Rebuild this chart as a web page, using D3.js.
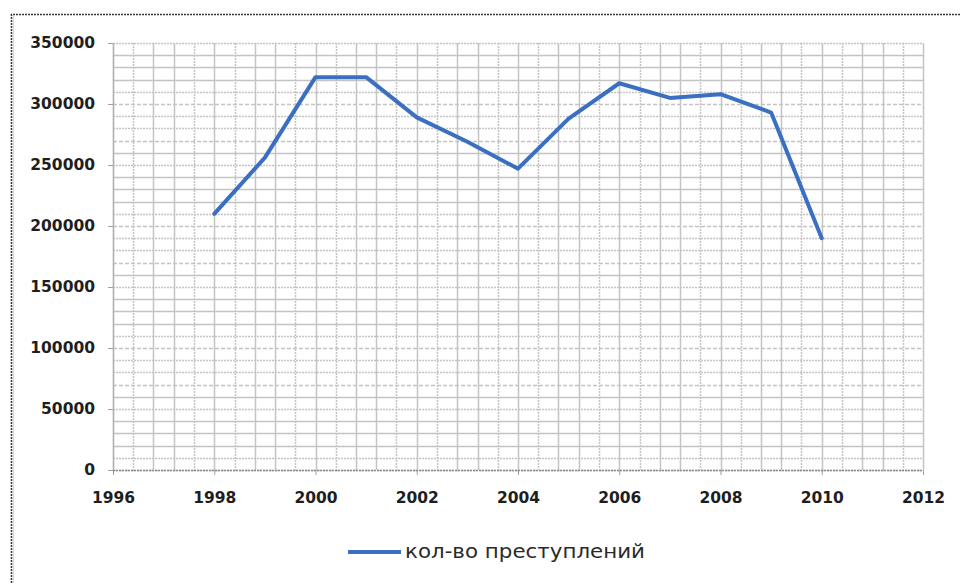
<!DOCTYPE html>
<html>
<head>
<meta charset="utf-8">
<script src="https://cdn.jsdelivr.net/npm/d3@7"></script>
<style>
  html, body { margin: 0; padding: 0; background: #ffffff; }
  svg { display: block; }
</style>
</head>
<body>
<svg id="chart" width="961" height="583"></svg>
<script>
// Crime count by year
const years = [1998, 1999, 2000, 2001, 2002, 2003, 2004, 2005, 2006, 2007, 2008, 2009, 2010];
const crimes = [210000, 256000, 322000, 322000, 289000, 269000, 247000, 288000, 317000, 305000, 308000, 293000, 190000];
const seriesName = "кол-во преступлений";
const xTickValues = [1996, 1998, 2000, 2002, 2004, 2006, 2008, 2010, 2012];
const yTickValues = [0, 50000, 100000, 150000, 200000, 250000, 300000, 350000];

const svg = d3.select("#chart");
const plot = { left: 113, right: 923, top: 43, bottom: 470 };

const x = d3.scaleLinear().domain([1996, 2012]).range([plot.left, plot.right]);
const y = d3.scaleLinear().domain([0, 350000]).range([plot.bottom, plot.top]);

// Outer frame (dotted, left and top edges)
svg.append("path")
  .attr("d", "M11.5,583 L11.5,14.5 L961,14.5")
  .attr("fill", "none")
  .attr("stroke", "#3a3a3a")
  .attr("stroke-width", 1.6)
  .attr("stroke-dasharray", "2,1");
svg.append("line")
  .attr("x1", 13.5).attr("x2", 13.5).attr("y1", 16).attr("y2", 583)
  .attr("stroke", "#d8d8d8").attr("stroke-width", 1);

// Minor grid: every 0.4 year and every 10000
const grid = svg.append("g");
const vSteps = d3.range(0, 41).map(i => 1996 + i * 0.4);
const hSteps = d3.range(0, 36).map(i => i * 10000);
const vDash = ["", "2,1", "", "", "2,1"];
const hDash = ["4,2", "2,1", "", "", "", "2,1", "", "4,2", "2,1", "2,1"];

grid.selectAll("line.v").data(vSteps).join("line")
  .attr("class", "v")
  .attr("x1", d => Math.round(x(d)) + 0.5).attr("x2", d => Math.round(x(d)) + 0.5)
  .attr("y1", plot.top).attr("y2", plot.bottom)
  .attr("stroke", "#c4c4c4").attr("stroke-width", 1.5)
  .attr("stroke-dasharray", (d, i) => vDash[i % vDash.length]);

grid.selectAll("line.h").data(hSteps).join("line")
  .attr("class", "h")
  .attr("x1", plot.left).attr("x2", plot.right)
  .attr("y1", d => Math.round(y(d)) + 0.5).attr("y2", d => Math.round(y(d)) + 0.5)
  .attr("stroke", "#c4c4c4").attr("stroke-width", 1.5)
  .attr("stroke-dasharray", (d, i) => hDash[i % hDash.length]);

// Axes
const tickFont = "'DejaVu Sans', sans-serif";

const yAxis = svg.append("g")
  .attr("transform", `translate(${plot.left},0)`)
  .call(d3.axisLeft(y).tickValues(yTickValues).tickSize(5).tickPadding(13).tickFormat(d3.format("d")));
yAxis.select(".domain").remove();
yAxis.selectAll(".tick line").attr("stroke", "#a0a0a0");
yAxis.selectAll("text")
  .attr("fill", "#1e1e1e")
  .style("font-family", tickFont)
  .style("font-weight", "bold")
  .style("font-size", "15.5px");

const xAxis = svg.append("g")
  .attr("transform", `translate(0,${plot.bottom})`)
  .call(d3.axisBottom(x).tickValues(xTickValues).tickSize(5).tickPadding(17).tickFormat(d3.format("d")));
xAxis.select(".domain").remove();
xAxis.selectAll(".tick line").attr("stroke", "#a0a0a0");
xAxis.selectAll("text")
  .attr("fill", "#1e1e1e")
  .style("font-family", tickFont)
  .style("font-weight", "bold")
  .style("font-size", "15.5px");

// Axis lines
svg.append("line")
  .attr("x1", plot.left).attr("x2", plot.right)
  .attr("y1", plot.bottom + 0.5).attr("y2", plot.bottom + 0.5)
  .attr("stroke", "#8a8a8a").attr("stroke-width", 1.3).attr("stroke-dasharray", "2,1");
svg.append("line")
  .attr("x1", plot.left + 0.5).attr("x2", plot.left + 0.5)
  .attr("y1", plot.top).attr("y2", plot.bottom)
  .attr("stroke", "#b0b0b0").attr("stroke-width", 1.3);

// Series line
const line = d3.line()
  .x((d, i) => x(years[i]))
  .y(d => y(d));

svg.append("path")
  .datum(crimes)
  .attr("d", line)
  .attr("fill", "none")
  .attr("stroke", "#3a6fc2")
  .attr("stroke-width", 4)
  .attr("stroke-linejoin", "round")
  .attr("stroke-linecap", "round");

// Legend
const legend = svg.append("g").attr("transform", "translate(348,552)");
legend.append("line")
  .attr("x1", 0).attr("x2", 53).attr("y1", 0).attr("y2", 0)
  .attr("stroke", "#3a6fc2").attr("stroke-width", 4);
legend.append("text")
  .attr("x", 57).attr("y", 6)
  .attr("fill", "#2a2a2a")
  .style("font-family", "'DejaVu Sans', sans-serif")
  .style("font-size", "19px")
  .attr("textLength", 240)
  .attr("lengthAdjust", "spacingAndGlyphs")
  .text(seriesName);
</script>
</body>
</html>
